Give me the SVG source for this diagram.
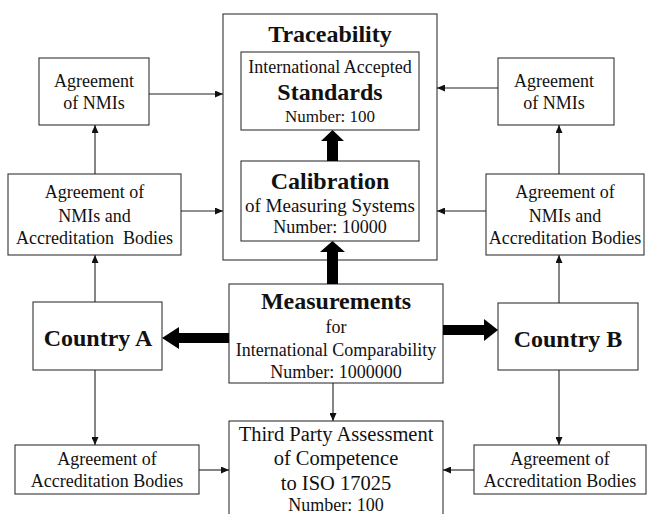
<svg xmlns="http://www.w3.org/2000/svg" width="651" height="514" viewBox="0 0 651 514">
  <defs>
    <marker id="tip" viewBox="0 0 8 7" refX="8" refY="3.5" markerWidth="8" markerHeight="7" markerUnits="userSpaceOnUse" orient="auto">
      <path d="M0,0 L8,3.5 L0,7 z" fill="#111"/>
    </marker>
    <style>
      .box { fill: #fff; stroke: #333; stroke-width: 1.1; }
      .t { font-family: 'Liberation Serif', Tinos, 'Times New Roman', 'DejaVu Serif', serif; font-size: 18px; fill: #111; text-anchor: middle; }
      .b { font-weight: bold; font-size: 24px; }
      .big { font-size: 20.5px; }
      .link { stroke: #222; stroke-width: 1.1; fill: none; marker-end: url(#tip); }
      .fat { fill: #000; stroke: none; }
    </style>
  </defs>
  <rect width="651" height="514" fill="#fff"/>

  <g id="traceability">
    <rect class="box" x="223" y="14" width="214" height="246"/>
    <text class="t b" x="330" y="42">Traceability</text>
  </g>

  <g id="standards">
    <rect class="box" x="241" y="52" width="178" height="78"/>
    <text class="t" x="330" y="73">International Accepted</text>
    <text class="t b" x="330" y="100">Standards</text>
    <text class="t" x="330" y="122" style="font-size:17px">Number: 100</text>
  </g>

  <g id="calibration">
    <rect class="box" x="241" y="161" width="178" height="80"/>
    <text class="t b" x="330" y="189">Calibration</text>
    <text class="t" x="330" y="212" style="font-size:19px">of Measuring Systems</text>
    <text class="t" x="330" y="233">Number: 10000</text>
  </g>

  <g id="nmi-left">
    <rect class="box" x="39" y="58" width="110" height="67"/>
    <text class="t" x="94" y="87">Agreement</text>
    <text class="t" x="94" y="109">of NMIs</text>
  </g>

  <g id="nmi-ab-left">
    <rect class="box" x="8" y="174" width="173" height="81"/>
    <text class="t" x="94.5" y="198">Agreement of</text>
    <text class="t" x="94.5" y="222">NMIs and</text>
    <text class="t" x="94.5" y="244" xml:space="preserve">Accreditation  Bodies</text>
  </g>

  <g id="nmi-right">
    <rect class="box" x="498" y="58" width="116" height="67"/>
    <text class="t" x="554" y="87">Agreement</text>
    <text class="t" x="554" y="109">of NMIs</text>
  </g>

  <g id="nmi-ab-right">
    <rect class="box" x="486" y="174" width="158" height="81"/>
    <text class="t" x="565" y="198">Agreement of</text>
    <text class="t" x="565" y="222">NMIs and</text>
    <text class="t" x="565" y="244">Accreditation Bodies</text>
  </g>

  <g id="country-a">
    <rect class="box" x="33" y="302" width="129" height="68"/>
    <text class="t b" x="98" y="346">Country A</text>
  </g>

  <g id="country-b">
    <rect class="box" x="498" y="303" width="140" height="67"/>
    <text class="t b" x="568" y="347">Country B</text>
  </g>

  <g id="measurements">
    <rect class="box" x="229" y="284" width="214" height="99"/>
    <text class="t b" x="336" y="309">Measurements</text>
    <text class="t" x="336" y="333">for</text>
    <text class="t" x="336" y="356">International Comparability</text>
    <text class="t" x="336" y="378">Number: 1000000</text>
  </g>

  <g id="third-party">
    <rect class="box" x="229" y="421" width="214" height="110"/>
    <text class="t big" x="336" y="441">Third Party Assessment</text>
    <text class="t big" x="336" y="465">of Competence</text>
    <text class="t big" x="336" y="490">to ISO 17025</text>
    <text class="t" x="336" y="511">Number: 100</text>
  </g>

  <g id="ab-left">
    <rect class="box" x="15" y="445" width="184" height="49"/>
    <text class="t" x="107" y="465">Agreement of</text>
    <text class="t" x="107" y="487">Accreditation Bodies</text>
  </g>

  <g id="ab-right">
    <rect class="box" x="474" y="445" width="172" height="49"/>
    <text class="t" x="560" y="465">Agreement of</text>
    <text class="t" x="560" y="487">Accreditation Bodies</text>
  </g>

  <g id="connectors">
    <line class="link" x1="149" y1="94" x2="223" y2="94"/>
    <line class="link" x1="181" y1="211" x2="223" y2="211"/>
    <line class="link" x1="95" y1="174" x2="95" y2="125"/>
    <line class="link" x1="95" y1="302" x2="95" y2="255"/>
    <line class="link" x1="95" y1="370" x2="95" y2="445"/>
    <line class="link" x1="199" y1="470" x2="229" y2="470"/>
    <line class="link" x1="333" y1="383" x2="333" y2="421"/>
    <line class="link" x1="498" y1="88" x2="437" y2="88"/>
    <line class="link" x1="486" y1="211" x2="437" y2="211"/>
    <line class="link" x1="559" y1="174" x2="559" y2="125"/>
    <line class="link" x1="559" y1="303" x2="559" y2="255"/>
    <line class="link" x1="559" y1="370" x2="559" y2="445"/>
    <line class="link" x1="474" y1="470" x2="443" y2="470"/>

    <!-- block arrows -->
    <polygon class="fat" points="327,284 327,252 320,252 332.5,241 345,252 338,252 338,284"/>
    <polygon class="fat" points="327,161 327,141 321,141 332.5,130 344,141 338,141 338,161"/>
    <polygon class="fat" points="229,333 179,333 179,327 162,338 179,349 179,343 229,343"/>
    <polygon class="fat" points="443,325 484,325 484,319 498,330 484,341 484,335 443,335"/>
  </g>
</svg>
